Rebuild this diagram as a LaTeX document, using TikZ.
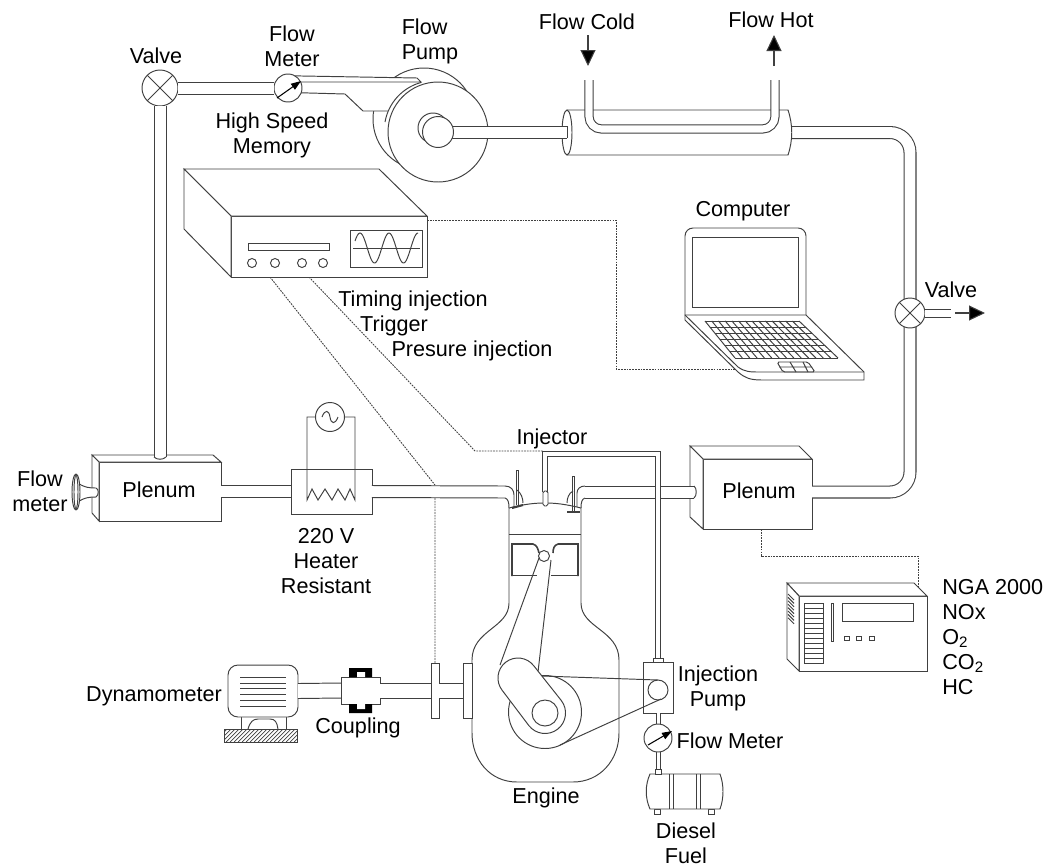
\documentclass[tikz,border=0pt]{standalone}
\usepackage{fontspec}
\setmainfont{Liberation Sans}
\usetikzlibrary{arrows.meta,calc}
\definecolor{ink}{gray}{0.25}
\tikzset{
  wire/.style={draw=ink, line width=0.55pt},
  part/.style={wire, fill=white},
  box/.style={part, inner sep=0pt, outer sep=0pt},
  disc/.style={box, circle},
  pipe/.style={draw=ink, line width=0.6pt, double=white, double distance=6.2pt},
  signal/.style={draw=ink, line width=0.5pt, dash pattern=on 1pt off 0.6pt},
  flowarrow/.style={draw=ink, line width=0.6pt, -{Triangle[length=0.32cm, width=0.3cm, fill=black]}},
  dialarrow/.style={draw=black, line width=0.6pt, -{Triangle[length=0.2cm, width=0.14cm, fill=black]}},
  lbl/.style={inner sep=0pt, text=black, align=center, font=\fontsize{12.3}{14.2}\selectfont},
}
% straight pipes: from, to, half width
\newcommand{\pipeH}[3]{
  \fill[white] ($(#1)+(0,-#3)$) rectangle ($(#2)+(0,#3)$);
  \draw[wire] ($(#1)+(0,-#3)$) -- ($(#2)+(0,-#3)$) ($(#1)+(0,#3)$) -- ($(#2)+(0,#3)$);
}
\newcommand{\pipeV}[3]{
  \fill[white] ($(#1)+(-#3,0)$) rectangle ($(#2)+(#3,0)$);
  \draw[wire] ($(#1)+(-#3,0)$) -- ($(#2)+(-#3,0)$) ($(#1)+(#3,0)$) -- ($(#2)+(#3,0)$);
}
\begin{document}
\begin{tikzpicture}[x=0.02cm, y=-0.02cm]
  \useasboundingbox (0,0) rectangle (1044,866);

  % Signal lines
  \draw[signal] (270,277) -- (435,485) (435,498) -- (435,663);
  \draw[signal] (309,277) -- (475,451) -- (543,451);
  \draw[signal] (427,220) -- (616,220) -- (616,369) -- (738,369);
  \draw[signal] (761,529) -- (761,556) -- (918,556) -- (918,587);

  % Flow pump, back part
  \draw[part] (424,119) circle (51);
  \fill[white] (302,78) -- (417,78) -- (425,82) -- (395,111) -- (363,111) -- (345,94) -- (302,94) -- cycle;

  % Plenum boxes
  \node[box, minimum width=2.44cm, minimum height=1.18cm] (plenumL) at (160,491.5) {};
  \draw[part] (99,462) -- (92,455) -- (213,455) -- (221,462) -- cycle;
  \draw[part] (99,462) -- (92,455) -- (92,513) -- (99,521) -- cycle;
  \node[box, minimum width=2.18cm, minimum height=1.4cm] (plenumR) at (757.5,494) {};
  \draw[part] (703,459) -- (690,446) -- (799,446) -- (812,459) -- cycle;
  \draw[part] (703,459) -- (690,446) -- (690,517) -- (703,529) -- cycle;
  \coordinate (portR) at (812,492);
  \coordinate (portRin) at (694,492);
  \coordinate (portTop) at (160,457);

  % Heater and its source
  \node[box, minimum width=1.62cm, minimum height=0.9cm] (heater) at (331.5,491.5) {};
  \coordinate (portE) at (505,492);
  \coordinate (portI) at (585,492);

  % Top line nodes
  \node[disc, minimum size=0.72cm] (valveT) at (160,88) {};
  \node[disc, minimum size=0.56cm] (meterT) at (288,88) {};
  \draw[wire] (valveT.45) -- (valveT.225) (valveT.135) -- (valveT.315);

  % Main pipes
  \pipeV{portTop}{valveT.south}{6}
  \pipeH{plenumL.east}{heater.west}{6}
  \pipeH{heater.east}{portE}{6}
  \pipeH{portI}{portRin}{6}
  \draw[wire] (694,486) .. controls (697,488) and (697,496) .. (694,498);
  \draw[wire] (154,457) .. controls (157,460) and (163,460) .. (166,457);

  % Valve bends at the cylinder head
  \draw[wire] (505,486) .. controls (511,486) and (514,490) .. (514,495) -- (514,507);
  \draw[wire] (505,498) .. controls (508,499) and (509,502) .. (509,508);
  \draw[wire] (585,486) .. controls (580,486) and (577,489) .. (577,493) -- (577,508);
  \draw[wire] (585,498) .. controls (582,499) and (581,502) .. (581,508);

  % Return pipe on the right
  \draw[pipe, rounded corners=0.4cm] (792,132.5) -- (910,132.5) -- (910,492) -- (portR);
  \node[disc, minimum size=0.6cm] (valveR) at (910,313) {};
  \coordinate (ventEnd) at (951,313);
  \pipeH{valveR.east}{ventEnd}{4}
  \draw[wire] (valveR.45) -- (valveR.225) (valveR.135) -- (valveR.315);
  \draw[flowarrow] (955,313) -- (985,313);

  % Top line
  \pipeH{valveT.east}{meterT.west}{6}
  \draw[dialarrow] (277,98) -- (301,81);
  \draw[wire] (meterT.60) -- (417,78) -- (421,82) -- (300,82);
  \draw[wire] (meterT.-20) -- (345,94) -- (363,111) -- (388,111);

  % Flow pump, front part
  \node[disc, minimum size=2cm] (pumpF) at (438,132) {};
  \draw[wire] (385,122) arc[start angle=-170, end angle=-105, radius=50];
  \draw[wire] (433,128) circle (15);
  \coordinate (shaftP) at (567,132);

  % Heat exchanger
  \draw[part] (567,110) -- (788,110) .. controls (793,125) and (793,140) .. (788,155) -- (567,155) -- cycle;
  \draw[part] (567,132.5) ellipse [x radius=5, y radius=22.5];
  \pipeH{pumpF.center}{shaftP}{6}
  \draw[wire] (567,126) -- (567,138);
  \node[disc, minimum size=0.62cm] (hubP) at (438,132) {};
  \draw[pipe, double distance=4pt, rounded corners=0.25cm] (589,80) -- (589,129) -- (775,129) -- (775,80);
  \draw[flowarrow] (588,35) -- (588,66);
  \draw[flowarrow] (774,66) -- (774,35);

  % High speed memory
  \node[box, minimum width=3.92cm, minimum height=1.22cm] (memory) at (329,246.5) {};
  \draw[part] (231,216) -- (184,169) -- (379,169) -- (427,216) -- cycle;
  \draw[part] (231,216) -- (184,169) -- (184,229) -- (231,277) -- cycle;
  \draw[part] (248,243) rectangle (329,250);
  \foreach \x in {252,275,302,323}
    \draw[wire] (\x,263) circle (4.5);
  \draw[part] (350,230) rectangle (422,267);
  \draw[wire] (353,248) -- (420,248);
  \draw[wire] plot[domain=355:418, samples=60, smooth] (\x, {248-15*cos(360/29*(\x-360))});

  % Computer
  \draw[part, rounded corners=0.16cm] (685,315) -- (685,228) -- (806,228) -- (806,315);
  \draw[wire] (692,237) rectangle (798,307);
  \draw[part] (685,315) -- (806,315) -- (864,372) -- (864,380) -- (762,380) .. controls (750,380) and (745,378) .. (738,372) -- (685,320) -- cycle;
  \draw[wire] (685,315) -- (738,367) .. controls (745,372) and (750,372) .. (760,372) -- (864,372);
  \foreach \r in {0,...,6}
    \draw[wire] ({705+30*\r/6},{321+37*\r/6}) -- ({799+39*\r/6},{321+37*\r/6});
  \foreach \c in {0,...,14}
    \draw[wire] ({705+94*\c/14},321) -- ({735+103*\c/14},358);
  \draw[wire, rounded corners=1pt] (777,362) -- (808,362) -- (815,372) -- (783,372) -- cycle;
  \draw[wire] (779,367) -- (812,367) (790,362) -- (796,372) (803,362) -- (808,372);

  % Gas analyser
  \node[box, minimum width=2.56cm, minimum height=1.5cm] (analyser) at (863,633.5) {};
  \draw[part] (799,596) -- (787,583) -- (914,583) -- (927,596) -- cycle;
  \draw[part] (799,596) -- (787,583) -- (787,659) -- (799,671) -- cycle;
  \foreach \y in {0,...,7}
    \draw[wire] (788,{594+3.4*\y}) -- (794,{600+3.4*\y});
  \draw[part] (804,603) rectangle (823,663);
  \foreach \y in {608,613,...,658}
    \draw[wire] (804,\y) -- (823,\y);
  \draw[part] (831,603) rectangle (833,641);
  \draw[part] (842,603) rectangle (913,621);
  \foreach \x in {844,856,869}
    \draw[wire] (\x,636) rectangle ++(5,4);

  % Heater wiring
  \node[disc, minimum size=0.58cm] (source) at (330,417) {};
  \draw[wire] (source) -- (307,417) -- (307,500) -- (312,489) -- (318,500) -- (325,489) -- (332,500) -- (338,489) -- (345,500) -- (350,489) -- (355,500) -- (355,417) -- (source);
  \draw[wire] (322,417) .. controls (325,409) and (329,410) .. (330,417) .. controls (331,424) and (335,425) .. (338,417);

  % Dynamometer, base and foot
  \begin{scope}
    \clip (224,729) rectangle (297,742);
    \foreach \x in {214,218,...,296}
      \draw[line width=0.4pt, ink] (\x,742) -- (\x+13,729);
  \end{scope}
  \draw[wire] (224,729) rectangle (297,742);
  \draw[wire] (241,717) -- (241,729) (286,717) -- (286,729);
  \draw[wire] (248,729) .. controls (250,722) and (253,719) .. (258,719) -- (270,719) .. controls (275,719) and (277,722) .. (278,729);
  \node[box, rounded corners=0.2cm, minimum width=1.4cm, minimum height=1.04cm] (dyno) at (263,691) {};
  \foreach \y in {677,683,688,694,700,706}
    \draw[wire] (240,\y) -- (286,\y);

  % Engine body
  \draw[part] (509,508) -- (509,603) .. controls (509,628) and (472,630) .. (472,660) -- (472,733) .. controls (472,760) and (490,782) .. (517,782) -- (573,782) .. controls (600,782) and (619,760) .. (619,733) -- (619,660) .. controls (619,630) and (581,628) .. (581,603) -- (581,508) .. controls (565,504) and (555,503) .. (545,503) .. controls (535,503) and (525,504) .. (509,508) -- cycle;
  \draw[wire] (509,534) -- (581,534);
  \draw[wire, line width=0.9pt] (512,576) -- (512,544) -- (533,544) .. controls (537,545) and (538,549) .. (539,553);
  \draw[wire, line width=0.9pt] (578,576) -- (578,544) -- (558,544) .. controls (554,545) and (553,549) .. (553,553);
  \draw[wire] (512,575.5) -- (537,575.5) (551,575.5) -- (578,575.5);
  \draw[wire] (544,556) circle (5.5);

  % Crank
  \node[disc, fill=none, minimum size=1.46cm] (crank) at (545,712) {};
  \draw[wire] (539,558) -- (500,665) (551,560) -- (538,672);
  \draw[part] (533.8,665.8) arc[start angle=-37.6, end angle=-217.6, radius=20] -- (528.8,725.5) arc[start angle=142.4, end angle=-37.6, radius=20.5] -- cycle;
  \draw[wire] (545,713) circle (13);

  % Valves and injector
  \draw[wire] (516,470) -- (516,505) (518.5,470) -- (518.5,505) (516,470) -- (518.5,470);
  \draw[wire, line width=1.2pt] (512,508) -- (523,505);
  \draw[wire] (523,503) .. controls (523,498) and (521,493) .. (517,490);
  \draw[wire] (572,476) -- (572,512) (574.5,476) -- (574.5,512) (572,476) -- (574.5,476);
  \draw[wire, line width=1.2pt] (567,512) -- (580,512);
  \draw[wire] (567,503) .. controls (567,498) and (569,493) .. (573,491);

  % Fuel line
  \coordinate (nozzle) at (545,492);
  \draw[pipe, double distance=1.8pt] (nozzle) -- (545,454) -- (658,454) -- (658,662);
  \draw[part, rounded corners=1pt] (543,491) rectangle (548,506);

  % Injection pump and flow meter
  \node[box, minimum width=0.6cm, minimum height=1.02cm] (injPump) at (658,687.5) {};
  \coordinate (tankIn) at (658,772);
  \pipeV{injPump.south}{tankIn}{2}
  \draw[part] (653,658) rectangle (663,662);
  \node[disc, minimum size=0.4cm] (pumpI) at (658,690) {};
  \draw[wire] (542,676) -- (658,680);
  \draw[wire] (560,745) -- (661,699);
  \node[disc, minimum size=0.56cm] (meterF) at (658,738) {};
  \draw[dialarrow] (648,745) -- (672,731);

  % Diesel tank
  \draw[part] (654,809) rectangle (660,814);
  \draw[part] (708,809) rectangle (714,814);
  \draw[part] (650,774) -- (720,774) .. controls (724,785) and (724,798) .. (720,809) -- (650,809) .. controls (645,798) and (645,785) .. (650,774) -- cycle;
  \draw[wire] (669,774) -- (669,809) (673,774) -- (673,809) (696,774) -- (696,809) (700,774) -- (700,809);
  \draw[part] (655,769) rectangle (661,774);

  % Drive shaft
  \node[box, minimum width=0.78cm, minimum height=0.54cm] (coupling) at (360.5,690.5) {};
  \node[box, minimum width=0.16cm, minimum height=1.1cm] (flangeA) at (435,690.5) {};
  \node[box, minimum width=0.18cm, minimum height=1.1cm] (flangeB) at (467.5,690.5) {};
  \pipeH{dyno.east}{coupling.west}{7.5}
  \pipeH{coupling.east}{flangeA.west}{7.5}
  \pipeH{flangeA.east}{flangeB.west}{7.5}
  \fill[black] (349,668) rectangle (372,677) (349,704) rectangle (372,713);
  \fill[white] (357,672) rectangle (365,677) (357,704) rectangle (365,709);

  % Horn on the left plenum
  \draw[part] (76,482) .. controls (85,488) and (90,488) .. (96,488) .. controls (99,489) and (99,495) .. (96,497) .. controls (90,497) and (85,497) .. (76,503) -- cycle;
  \draw[part] (76,492) ellipse [x radius=4, y radius=18];
  \draw[wire] (76,492) ellipse [x radius=2, y radius=17];

  % Labels
  \node[lbl] (lblValveT) at (156,56) {Valve};
  \node[lbl] (lblMeterT) at (292,46) {Flow\\Meter};
  \node[lbl, align=left] (lblPump) at (430,41) {Flow\\Pump};
  \node[lbl] (lblCold) at (587,22) {Flow Cold};
  \node[lbl] (lblHot) at (771,20) {Flow Hot};
  \node[lbl] (lblMemory) at (272,135) {High Speed\\Memory};
  \node[lbl] (lblComputer) at (743,211) {Computer};
  \node[lbl] (lblValveR) at (951,290) {Valve};
  \node[lbl] (lblTiming) at (413,301) {Timing injection};
  \node[lbl] (lblTrigger) at (394,326) {Trigger};
  \node[lbl] (lblPresure) at (472,351) {Presure injection};
  \node[lbl] (lblInjector) at (552,439) {Injector};
  \node[lbl] (plenumLtext) at (159,490) {Plenum};
  \node[lbl] (plenumRtext) at (759,491) {Plenum};
  \node[lbl] (lblFlowL) at (40,491) {Flow\\meter};
  \node[lbl] (lblHeater) at (326,561) {220 V\\Heater\\Resistant};
  \node[lbl, align=left, anchor=north west] (lblGas) at (942,579) {NGA 2000\\NOx\\O\textsubscript{2}\\CO\textsubscript{2}\\HC};
  \node[lbl] (lblDyno) at (154,696) {Dynamometer};
  \node[lbl] (lblCoupling) at (358,728) {Coupling};
  \node[lbl] (lblInjPump) at (718,688) {Injection\\Pump};
  \node[lbl] (lblMeterF) at (730,741) {Flow Meter};
  \node[lbl] (lblEngine) at (546,798) {Engine};
  \node[lbl] (lblDiesel) at (686,843) {Diesel\\Fuel};
\end{tikzpicture}
\end{document}
